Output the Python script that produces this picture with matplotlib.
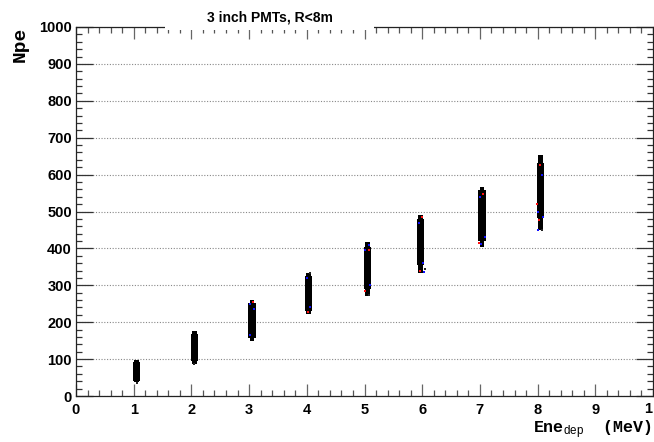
import matplotlib
matplotlib.use("Agg")
import matplotlib.pyplot as plt
from matplotlib.patches import Rectangle
from matplotlib.ticker import MultipleLocator

plt.rcParams['font.family'] = ['Liberation Sans', 'DejaVu Sans']
plt.rcParams['mathtext.fontset'] = 'custom'
plt.rcParams['mathtext.rm'] = 'Liberation Sans'
plt.rcParams['mathtext.it'] = 'Liberation Sans:italic'
plt.rcParams['mathtext.bf'] = 'Liberation Sans:bold'

# ---- data ----
energies = [1, 2, 3, 4, 5, 6, 7, 8]
x_centers = [1.05, 2.05, 3.05, 4.03, 5.05, 5.97, 7.04, 8.05]
core_low = [42, 94, 158, 230, 290, 355, 420, 482]
core_high = [92, 169, 252, 326, 404, 481, 557, 632]
tail_low = [37, 88, 150, 223, 270, 334, 405, 450]
tail_high = [97, 176, 260, 333, 418, 491, 566, 652]

blue_x = [3.02, 3.08, 3.01, 4.00, 4.06, 5.01, 5.09, 5.08, 6.03, 5.94, 6.01, 7.00, 7.09, 7.02, 8.00, 8.08, 8.01, 8.09]
blue_y = [250, 235, 165, 320, 240, 395, 300, 410, 337, 470, 360, 540, 430, 412, 450, 600, 500, 485]
red_x = [3.06, 4.02, 5.00, 5.07, 5.96, 6.00, 7.06, 6.98, 8.05, 8.02, 7.99]
red_y = [255, 228, 285, 395, 338, 485, 548, 415, 625, 478, 520]
dark_x = [5.08, 6.05, 8.07, 4.05, 1.06, 2.04]
dark_y = [275, 345, 451, 332, 36, 88]

x_tick_labels = ["0", "1", "2", "3", "4", "5", "6", "7", "8", "9"]
edge_label = "1"   # the "10" label, clipped by the picture edge in the reference
title_text = "3 inch PMTs, R<8m"
xlabel_text = r"Ene$_{\mathrm{dep}}$  (MeV)"
ylabel_text = "Npe"

W, H = 654, 442
fig = plt.figure(figsize=(W / 100, H / 100), dpi=100)
ax = fig.add_axes([76 / W, 46 / H, 577 / W, 369 / H])

ax.set_xlim(0, 10)
ax.set_ylim(0, 1000)

# grid
ax.yaxis.grid(True, which='major', linestyle=(0, (1, 1.5)), color='#888888', linewidth=0.8)
ax.xaxis.grid(False)
ax.set_axisbelow(True)

# clusters
bar_w = 0.13
ax.bar(x_centers, [h - l for l, h in zip(core_low, core_high)], bottom=core_low,
       width=bar_w, color='black', linewidth=0, zorder=3)
ax.bar(x_centers, [h - l for l, h in zip(tail_low, tail_high)], bottom=tail_low,
       width=bar_w * 0.6, color='black', linewidth=0, zorder=3)
ax.scatter(blue_x, blue_y, s=3, color='#1010ff', marker='s', linewidths=0, zorder=4)
ax.scatter(red_x, red_y, s=3, color='#ff1010', marker='s', linewidths=0, zorder=4)
ax.scatter(dark_x, dark_y, s=3, color='#222222', marker='s', linewidths=0, zorder=4)

# ticks
ax.xaxis.set_major_locator(MultipleLocator(1))
ax.xaxis.set_minor_locator(MultipleLocator(0.2))
ax.yaxis.set_major_locator(MultipleLocator(100))
ax.yaxis.set_minor_locator(MultipleLocator(20))
ax.tick_params(axis='x', which='major', direction='in', length=8.3, width=0.9,
               color='#666666', top=True, bottom=True, labelsize=10.5, pad=5)
ax.tick_params(axis='x', which='minor', direction='in', length=4.3, width=0.9,
               color='#555555', top=True, bottom=True)
ax.tick_params(axis='y', which='major', direction='in', length=12, width=0.9,
               color='#333333', left=True, right=True, labelsize=10.5, pad=3)
ax.tick_params(axis='y', which='minor', direction='in', length=4.5, width=0.9,
               color='#333333', left=True, right=True)
for sp in ax.spines.values():
    sp.set_linewidth(0.9)
    sp.set_color('#222222')

ax.set_xticks(range(0, 10))
ax.set_xticklabels(x_tick_labels)
for lab in ax.get_xticklabels() + ax.get_yticklabels():
    lab.set_fontweight('bold')
fig.text(648 / W, 1 - 402 / H, edge_label, ha='center', va='top',
         fontsize=10.5, fontweight='bold')

# title box covering the top axis
fig.patches.append(Rectangle((165 / W, 1 - 29.5 / H), (374 - 165) / W, 29.5 / H,
                             transform=fig.transFigure, facecolor='white',
                             edgecolor='none', zorder=5))
fig.text(270 / W, 1 - 18 / H, title_text, ha='center', va='center', fontsize=10,
         fontweight='bold', zorder=6)

fig.text(652 / W, 1 - 430 / H, xlabel_text, ha='right', va='center', fontsize=12,
         family=['Liberation Mono', 'DejaVu Sans Mono'], fontweight='bold')
fig.text(20 / W, 1 - 27 / H, ylabel_text, ha='center', va='top', rotation=90,
         fontsize=14, family=['Liberation Mono', 'DejaVu Sans Mono'], fontweight='bold')

fig.savefig("out.png", dpi=100)
